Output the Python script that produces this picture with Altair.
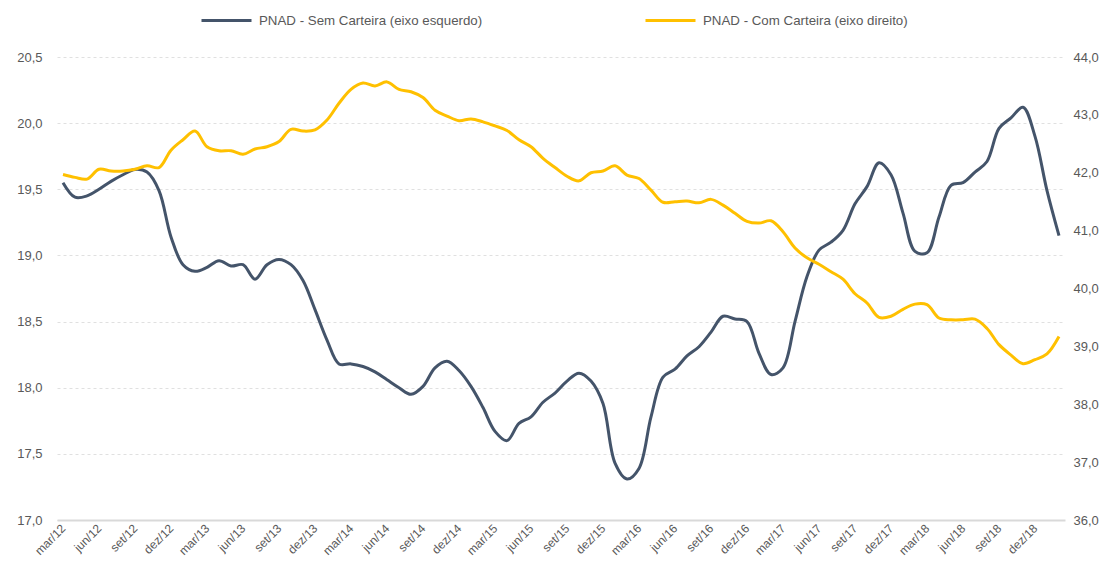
import altair as alt
import pandas as pd

# --- data -------------------------------------------------------------
month_names = ["jan", "fev", "mar", "abr", "mai", "jun",
               "jul", "ago", "set", "out", "nov", "dez"]
months = [f"{month_names[(2 + k) % 12]}/{12 + (2 + k) // 12:02d}" for k in range(84)]
tick_labels = months[::3]

series_names = ["PNAD - Sem Carteira (eixo esquerdo)", "PNAD - Com Carteira (eixo direito)"]
series_colors = ["#44546A", "#FFC000"]

sem_carteira = [19.55, 19.44, 19.45, 19.50, 19.56, 19.61, 19.65, 19.63, 19.49, 19.14,
                18.93, 18.88, 18.91, 18.96, 18.92, 18.93, 18.82, 18.93, 18.97, 18.93,
                18.81, 18.59, 18.36, 18.18, 18.18, 18.16, 18.12, 18.06, 18.00, 17.95,
                18.01, 18.15, 18.20, 18.13, 18.01, 17.85, 17.67, 17.60, 17.73, 17.78,
                17.89, 17.96, 18.05, 18.11, 18.05, 17.88, 17.43, 17.31, 17.39, 17.78,
                18.08, 18.14, 18.24, 18.31, 18.42, 18.54, 18.52, 18.50, 18.26, 18.10,
                18.15, 18.50, 18.84, 19.04, 19.10, 19.19, 19.39, 19.52, 19.70, 19.61,
                19.32, 19.03, 19.02, 19.29, 19.53, 19.55, 19.63, 19.71, 19.96, 20.04,
                20.12, 19.90, 19.49, 19.15]

com_carteira = [41.97, 41.92, 41.89, 42.06, 42.03, 42.03, 42.06, 42.12, 42.09, 42.39,
                42.57, 42.72, 42.45, 42.38, 42.38, 42.32, 42.41, 42.45, 42.54, 42.75,
                42.72, 42.74, 42.91, 43.20, 43.44, 43.55, 43.50, 43.57, 43.44, 43.40,
                43.30, 43.08, 42.98, 42.90, 42.93, 42.88, 42.81, 42.73, 42.57, 42.45,
                42.25, 42.09, 41.94, 41.86, 42.00, 42.03, 42.12, 41.96, 41.90, 41.70,
                41.49, 41.50, 41.51, 41.48, 41.54, 41.44, 41.30, 41.16, 41.13, 41.17,
                40.98, 40.70, 40.53, 40.42, 40.29, 40.16, 39.91, 39.75, 39.50, 39.52,
                39.64, 39.73, 39.72, 39.49, 39.46, 39.46, 39.47, 39.31, 39.03, 38.85,
                38.70, 38.77, 38.87, 39.17]

left_ticks = [17.0, 17.5, 18.0, 18.5, 19.0, 19.5, 20.0, 20.5]
right_ticks = [36, 37, 38, 39, 40, 41, 42, 43, 44]

df = pd.DataFrame({
    "mes": months * 2,
    "serie": [series_names[0]] * 84 + [series_names[1]] * 84,
    "valor": sem_carteira + com_carteira,
})

FONT = "Liberation Sans"
GRAY = "#595959"
comma_fmt = "replace(format(datum.value, '.1f'), '.', ',')"

x_enc = alt.X(
    "mes:O",
    sort=months,
    scale=alt.Scale(type="point", padding=0.5),
    axis=alt.Axis(
        title=None, values=tick_labels, labelAngle=-45, labelAlign="right",
        labelBaseline="middle", labelPadding=6, ticks=False, tickSize=0,
        domain=True, domainColor="#d9d9d9", domainWidth=2, grid=False,
        labelFont=FONT, labelFontSize=12, labelColor=GRAY, labelOverlap=False,
    ),
)

color_enc = alt.Color(
    "serie:N",
    scale=alt.Scale(domain=series_names, range=series_colors),
    legend=alt.Legend(
        title=None, orient="none", legendX=143, legendY=-63, direction="horizontal",
        symbolType="stroke", symbolStrokeWidth=3, symbolSize=2500,
        labelFont=FONT, labelFontSize=13.3, labelColor=GRAY, labelLimit=400,
        columnPadding=156, labelOffset=6,
    ),
)

left = alt.Chart(df).transform_filter(
    alt.datum.serie == series_names[0]
).mark_line(strokeWidth=3, interpolate="catmull-rom").encode(
    x=x_enc,
    y=alt.Y(
        "valor:Q",
        scale=alt.Scale(domain=[17.0, 20.5], nice=False, zero=False),
        axis=alt.Axis(
            title=None, orient="left", values=left_ticks, labelExpr=comma_fmt,
            domain=False, ticks=False, tickSize=0, labelPadding=15,
            grid=True, gridColor="#e0e0e0", gridDash=[3, 3], gridWidth=1,
            labelFont=FONT, labelFontSize=13, labelColor=GRAY,
        ),
    ),
    color=color_enc,
)

right = alt.Chart(df).transform_filter(
    alt.datum.serie == series_names[1]
).mark_line(strokeWidth=3, interpolate="catmull-rom").encode(
    x=x_enc,
    y=alt.Y(
        "valor:Q",
        scale=alt.Scale(domain=[36, 44], nice=False, zero=False),
        axis=alt.Axis(
            title=None, orient="right", values=right_ticks, labelExpr=comma_fmt,
            domain=False, ticks=False, tickSize=0, labelPadding=8, grid=False,
            labelFont=FONT, labelFontSize=13, labelColor=GRAY,
        ),
    ),
    color=color_enc,
)

chart = alt.layer(left, right).resolve_scale(y="independent").properties(
    width=1008,
    height=463,
    background="white",
    autosize=alt.AutoSizeParams(type="none"),
    padding={"left": 49, "top": 49, "right": 36, "bottom": 40},
).configure_view(strokeWidth=0, stroke="transparent")

chart.save("out.html", embed_options={"renderer": "svg", "actions": False})
